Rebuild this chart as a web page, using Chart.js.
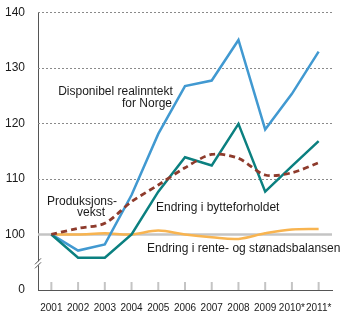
<!DOCTYPE html>
<html><head><meta charset="utf-8">
<script src="https://cdn.jsdelivr.net/npm/chart.js@4.4.0/dist/chart.umd.min.js"></script>
<style>html,body{margin:0;padding:0;background:#fff}#wrap{width:350px;height:324px}</style>
</head><body><div id="wrap"><canvas id="c"></canvas></div>
<script>
const years = ['2001','2002','2003','2004','2005','2006','2007','2008','2009','2010*','2011*'];
const disponibel = [100, 97.1, 98.2, 107.1, 118.1, 126.7, 127.7, 135.0, 118.9, 125.3, 132.9];
const bytteforhold = [100, 95.8, 95.8, 100.0, 107.7, 113.9, 112.4, 119.9, 107.7, 112.3, 116.8];
const produksjon = [100, 101.1, 102.0, 105.9, 108.9, 112.0, 114.4, 113.7, 110.7, 111.1, 112.9];
const renteStonad = [100, 100.0, 100.2, 100.0, 100.7, 100.0, 99.5, 99.2, 100.2, 100.9, 101.0];
const yTicks = [90, 100, 110, 120, 130, 140];
const yTickLabels = ['0', '100', '110', '120', '130', '140'];
const annotations = [
  {text:'Disponibel realinntekt', x:115.5, y:92, align:'center'},
  {text:'for Norge', x:172, y:104, align:'right'},
  {text:'Produksjons-', x:47, y:202, align:'left'},
  {text:'vekst', x:105, y:213, align:'right'},
  {text:'Endring i bytteforholdet', x:156, y:208, align:'left'},
  {text:'Endring i rente- og stønadsbalansen', x:147, y:249, align:'left'}
];
const FONT = "'Liberation Sans', Arial, sans-serif";

const decor = {
  id:'decor',
  beforeDatasetsDraw(chart){
    const {ctx, chartArea:a, scales:{x, y}} = chart;
    ctx.save();
    yTicks.forEach(v => {
      if (v === 90) return;
      const py = Math.round(y.getPixelForValue(v)) + 0.5;
      ctx.beginPath();
      if (v === 100) { ctx.strokeStyle = '#c4c4c4'; ctx.lineWidth = 2.5; ctx.setLineDash([]); }
      else { ctx.strokeStyle = '#8a8a8a'; ctx.lineWidth = 1; ctx.setLineDash([2,2]); }
      ctx.moveTo(a.left, py); ctx.lineTo(a.right, py); ctx.stroke();
    });
    ctx.setLineDash([]);
    ctx.strokeStyle = '#c4c4c4'; ctx.lineWidth = 2;
    years.forEach((yr, i) => {
      const px = x.getPixelForValue(i);
      ctx.beginPath(); ctx.moveTo(px, a.bottom); ctx.lineTo(px, a.bottom - 8); ctx.stroke();
    });
    ctx.restore();
  },
  afterDraw(chart){
    const {ctx, chartArea:a, scales:{y}} = chart;
    ctx.save();
    const by = y.getPixelForValue(94.8);
    ctx.fillStyle = '#fff';
    ctx.fillRect(a.left - 3, by - 2, 6, 4);
    ctx.strokeStyle = '#555'; ctx.lineWidth = 1;
    [-2, 2].forEach(d => {
      ctx.beginPath();
      ctx.moveTo(a.left - 3, by + d + 3); ctx.lineTo(a.left + 3, by + d - 3); ctx.stroke();
    });
    ctx.fillStyle = '#1a1a1a';
    ctx.font = '12px ' + FONT;
    ctx.textBaseline = 'middle';
    annotations.forEach(t => { ctx.textAlign = t.align; ctx.fillText(t.text, t.x, t.y); });
    ctx.restore();
  }
};

new Chart(document.getElementById('c'), {
  type:'line',
  data:{
    labels: years,
    datasets:[
      {data: renteStonad, borderColor:'#f8b450', borderWidth:2.5, tension:0.35, pointRadius:0, order:4},
      {data: disponibel, borderColor:'#4199d1', borderWidth:2.5, tension:0, pointRadius:0, order:3},
      {data: bytteforhold, borderColor:'#0b8080', borderWidth:2.5, tension:0, pointRadius:0, order:2},
      {data: produksjon, borderColor:'#8e3b2c', borderWidth:2.8, borderDash:[6,4], tension:0.3, pointRadius:0, order:1}
    ]
  },
  options:{
    responsive:true, maintainAspectRatio:false, animation:false,
    layout:{padding:{top:9, right:18, left:0, bottom:0}},
    plugins:{legend:{display:false}, tooltip:{enabled:false}},
    scales:{
      x:{
        offset:true,
        grid:{display:false},
        border:{color:'#555', width:1},
        ticks:{color:'#1a1a1a', font:{family:FONT, size:10}, padding:4, maxRotation:0, autoSkip:false},
        afterFit(s){ s.height = 34; }
      },
      y:{
        min:90, max:140,
        grid:{display:false},
        border:{color:'#555', width:1},
        afterBuildTicks(s){ s.ticks = yTicks.map(v => ({value:v})); },
        ticks:{color:'#1a1a1a', font:{family:FONT, size:12}, padding:5,
          callback:(v) => yTickLabels[yTicks.indexOf(v)]},
        afterFit(s){ s.width = 38; }
      }
    }
  },
  plugins:[decor]
});
</script>
</body></html>
